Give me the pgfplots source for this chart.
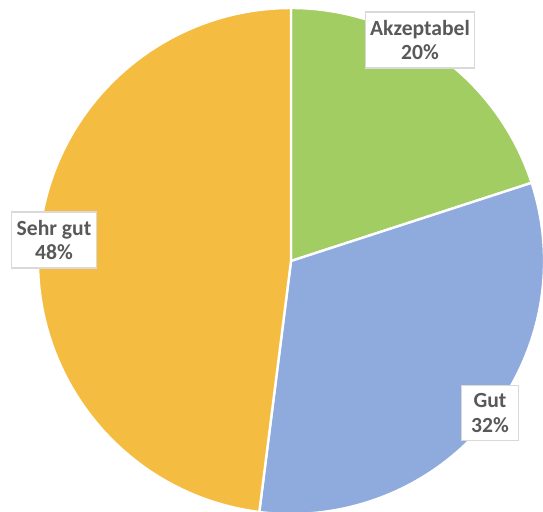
\documentclass[border=0pt]{standalone}
\usepackage{pgfplots}
\pgfplotsset{compat=1.18}
\usepackage{pgfplotstable}
\usepackage{fontspec}
\setmainfont{Carlito}
\definecolor{pieGreen}{HTML}{A2CD63}
\definecolor{pieBlue}{HTML}{8FAADC}
\definecolor{pieOrange}{HTML}{F4BD41}
\definecolor{lblText}{HTML}{595959}
\definecolor{lblBorder}{HTML}{D9D9D9}
\pgfplotstableread{
label value color
Akzeptabel 20 pieGreen
Gut 32 pieBlue
Sehr-gut 48 pieOrange
}\piedata
\begin{document}
\begin{tikzpicture}
\path[use as bounding box] (0,0) rectangle (271.5pt,255.5pt);
\begin{axis}[
  at={(0,0)}, anchor=south west,
  scale only axis, width=271.5pt, height=255.5pt,
  xmin=0, xmax=543, ymin=0, ymax=511,
  hide axis, clip=true,
]
\pgfmathsetmacro{\startang}{90}
\pgfplotsforeachungrouped \i in {0,1,2}{%
  \pgfplotstablegetelem{\i}{value}\of\piedata \let\val\pgfplotsretval
  \pgfplotstablegetelem{\i}{color}\of\piedata \let\col\pgfplotsretval
  \pgfmathsetmacro{\endang}{\startang-3.6*\val}%
  \edef\temp{\noexpand\fill[\col, draw=white, line width=1.2pt, line join=round] (axis cs:291,250) -- ++(\startang:126.5pt) arc[start angle=\startang, end angle=\endang, radius=126.5pt] -- cycle;}%
  \temp
  \global\let\startang\endang
}
\tikzset{lbl/.style={fill=white, draw=lblBorder, line width=0.6pt, text=lblText, align=center, font=\fontsize{10.8}{12.4}\selectfont\bfseries, inner xsep=2.5pt, inner ysep=4pt}}
\node[lbl] at (axis cs:420,471) {Akzeptabel\\20\%};
\node[lbl, inner xsep=5pt] at (axis cs:490,98) {Gut\\32\%};
\node[lbl] at (axis cs:54,271) {Sehr gut\\48\%};
\end{axis}
\end{tikzpicture}
\end{document}
